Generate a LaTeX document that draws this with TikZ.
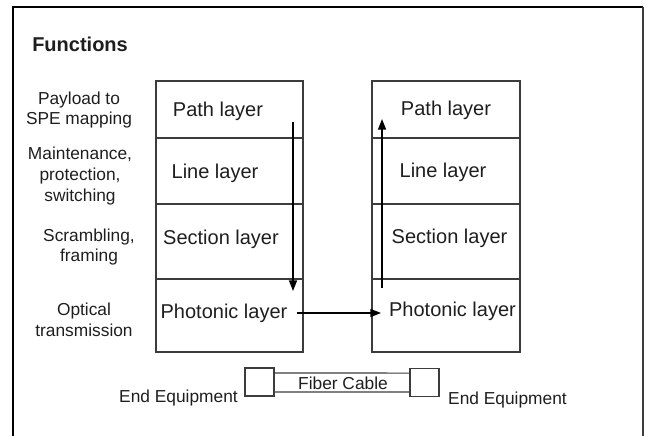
\documentclass[tikz,border=0pt]{standalone}
\usepackage{fontspec}
\setmainfont{Liberation Sans}
\usetikzlibrary{arrows.meta}
\definecolor{boxgray}{HTML}{3C3C3C}
\definecolor{txt}{HTML}{1E1E1E}
\begin{document}
\begin{tikzpicture}[x=0.75pt,y=-0.75pt,
  cellL/.style={draw=boxgray, line width=0.8pt, minimum width=110.25pt, inner sep=0pt},
  cellR/.style={draw=boxgray, line width=0.8pt, minimum width=111pt, inner sep=0pt},
  layer/.style={font=\fontsize{15}{18}\selectfont, text=txt, inner sep=0pt},
  func/.style={font=\fontsize{13}{15.4}\selectfont, text=txt, align=center, inner sep=0pt},
  small/.style={font=\fontsize{13}{15.4}\selectfont, text=txt, inner sep=0pt},
  flow/.style={line width=1.1pt, -{Triangle[length=8pt,width=6pt]}},
  endbox/.style={draw=boxgray, line width=0.8pt, minimum width=21.75pt, minimum height=21pt, inner sep=0pt}
]
\useasboundingbox (0,0) rectangle (645,435);
% frame
\draw[line width=1.6pt] (13,436) -- (13,7) -- (643,7);
\draw[line width=0.8pt, boxgray] (643,7) -- (643,436);
\node[anchor=west, font=\fontsize{15}{18}\selectfont\bfseries, text=txt, inner sep=0pt] (title) at (32,44) {Functions};
% left stack
\node[cellL, minimum height=42.75pt] (L1) at (229.5,109.5) {};
\node[cellL, minimum height=49.5pt]  (L2) at (229.5,171) {};
\node[cellL, minimum height=56.25pt] (L3) at (229.5,241.5) {};
\node[cellL, minimum height=54.75pt] (L4) at (229.5,315.5) {};
% right stack
\node[cellR, minimum height=42.75pt] (R1) at (446,109.5) {};
\node[cellR, minimum height=49.5pt]  (R2) at (446,171) {};
\node[cellR, minimum height=56.25pt] (R3) at (446,241.5) {};
\node[cellR, minimum height=54.75pt] (R4) at (446,315.5) {};
% layer labels
\node[layer] (lp)  at (218,111) {Path layer};
\node[layer] (ll)  at (215,173) {Line layer};
\node[layer] (ls)  at (221,239) {Section layer};
\node[layer] (lph) at (224,313) {Photonic layer};
\node[layer] (rp)  at (446,110) {Path layer};
\node[layer] (rl)  at (443,172) {Line layer};
\node[layer] (rs)  at (449.5,238) {Section layer};
\node[layer] (rph) at (452.5,311) {Photonic layer};
% function labels
\node[func] (f1) at (79,110) {Payload to\\SPE mapping};
\node[func] (f2) at (80,176) {Maintenance,\\protection,\\switching};
\node[func] (f3) at (89,247) {Scrambling,\\framing};
\node[func] (f4) at (84,320) {Optical\\transmission};
% arrows
\coordinate (ds) at (293,122);
\coordinate (de) at (293,291);
\coordinate (us) at (382,288);
\coordinate (ue) at (382,119);
\coordinate (hs) at (297,313);
\coordinate (he) at (381,313);
\draw[flow] (ds) -- (de);
\draw[flow] (us) -- (ue);
\draw[flow] (hs) -- (he);
% fiber cable
\node[endbox] (lb) at (259.5,382) {};
\node[endbox] (rb) at (424.5,382.5) {};
\draw[boxgray, line width=0.8pt] ([yshift=6.75pt]lb.east) -- ([yshift=7.1pt]rb.west);
\draw[boxgray, line width=0.8pt] ([yshift=-7.5pt]lb.east) -- ([yshift=-7.1pt]rb.west);
\node[small] (fc) at (343,383) {Fiber Cable};
\node[small] (e1) at (178.5,398) {End Equipment};
\node[small] (e2) at (507.5,400) {End Equipment};
\end{tikzpicture}
\end{document}
